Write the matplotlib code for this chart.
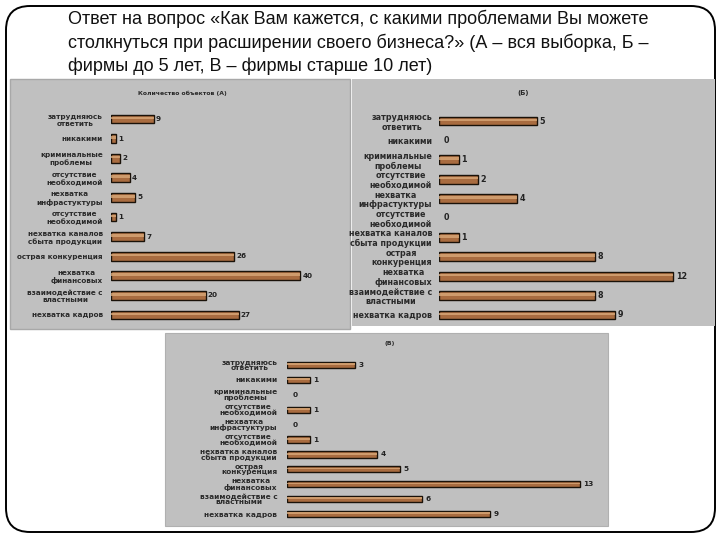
import matplotlib.pyplot as plt
from matplotlib.patches import FancyBboxPatch, Rectangle

W, H = 720, 540

title = ("Ответ на вопрос «Как Вам кажется, с какими проблемами Вы можете\n"
         "столкнуться при расширении своего бизнеса?» (А – вся выборка, Б –\n"
         "фирмы до 5 лет, В – фирмы старше 10 лет)")

labels_a = ["затрудняюсь\nответить", "никакими", "криминальные\nпроблемы",
            "отсутствие\nнеобходимой", "нехватка\nинфрастуктуры",
            "отсутствие\nнеобходимой", "нехватка каналов\nсбыта продукции",
            "острая конкуренция", "нехватка\nфинансовых",
            "взаимодействие с\nвластными", "нехватка кадров"]
labels_bv = labels_a[:7] + ["острая\nконкуренция"] + labels_a[8:]

values_a = [9, 1, 2, 4, 5, 1, 7, 26, 40, 20, 27]
values_b = [5, 0, 1, 2, 4, 0, 1, 8, 12, 8, 9]
values_v = [3, 1, 0, 1, 0, 1, 4, 5, 13, 6, 9]

titles = ["Количество объектов (А)", "(Б)", "(В)"]

BAR = "#a96c40"
LIGHT = "#d9a878"
PANEL = "#c0c0c0"

fig = plt.figure(figsize=(W / 100, H / 100), dpi=100)
fig.patch.set_facecolor("white")

# background layer in pixel coordinates
bg = fig.add_axes([0, 0, 1, 1])
bg.set_xlim(0, W)
bg.set_ylim(H, 0)
bg.axis("off")
bg.add_patch(FancyBboxPatch((6, 6), 709, 526, boxstyle="round,pad=0,rounding_size=24",
                            fill=False, edgecolor="black", linewidth=1.4))
bg.add_patch(Rectangle((10, 79), 340, 250, facecolor=PANEL, edgecolor="#a8a8a8", linewidth=1))
bg.add_patch(Rectangle((352, 79), 363, 247, facecolor=PANEL, edgecolor="none"))
bg.add_patch(Rectangle((165, 333), 443, 193, facecolor=PANEL, edgecolor="#b0b0b0", linewidth=0.8))
bg.text(68, 10, title, ha="left", va="top", fontsize=13, linespacing=1.4,
        family=["Liberation Sans", "DejaVu Sans"], color="#111111")


def bar_panel(labels, values, x_start, x_end, y_first, y_last, pad,
              label_size, title_text, title_xy, bar_h, spacing):
    n = len(values)
    vmax = max(values)
    step = (y_last - y_first) / (n - 1)
    width = (x_end - x_start) * 1.25
    top = y_first - step * 0.8
    bottom = y_last + step * 0.8
    ax = fig.add_axes([x_start / W, 1 - bottom / H, width / W, (bottom - top) / H])
    ax.set_xlim(0, vmax * 1.25)
    ax.set_ylim(n - 1 + 0.8, -0.8)
    ax.patch.set_alpha(0)
    for s in ax.spines.values():
        s.set_visible(False)
    pos = list(range(n))
    ax.barh(pos, values, height=bar_h, color=BAR, edgecolor="#1a1209",
            linewidth=[1.0 if v else 0 for v in values])
    ax.barh([p - bar_h * 0.12 for p in pos], values, height=bar_h * 0.3,
            color=LIGHT, edgecolor="none", alpha=0.8)
    for p, v in zip(pos, values):
        ax.text(v + vmax * 0.012 + 0.1 * (v == 0), p, str(v), va="center", ha="left",
                fontsize=label_size, fontweight="bold", color="#222222")
    ax.set_xticks([])
    ax.set_yticks(pos)
    ax.set_yticklabels(labels, fontsize=label_size, fontweight="bold",
                       color="#2a2a2a", linespacing=spacing, multialignment="center")
    ax.tick_params(axis="y", length=0, pad=pad)
    bg.text(title_xy[0], title_xy[1], title_text, ha="center", va="center",
            fontsize=label_size - 0.8, fontweight="bold", color="#2a2a2a")
    return ax


bar_panel(labels_a, values_a, 111, 300, 119, 315, 6, 5.2, titles[0], (182, 93), 0.45, 1.2)
bar_panel(labels_bv, values_b, 439, 673, 121, 315, 5, 5.8, titles[1], (523, 93), 0.45, 1.1)
bar_panel(labels_bv, values_v, 287, 580, 365, 514, 7, 5.3, titles[2], (390, 344), 0.42, 0.9)

fig.savefig("out.png", dpi=100)
